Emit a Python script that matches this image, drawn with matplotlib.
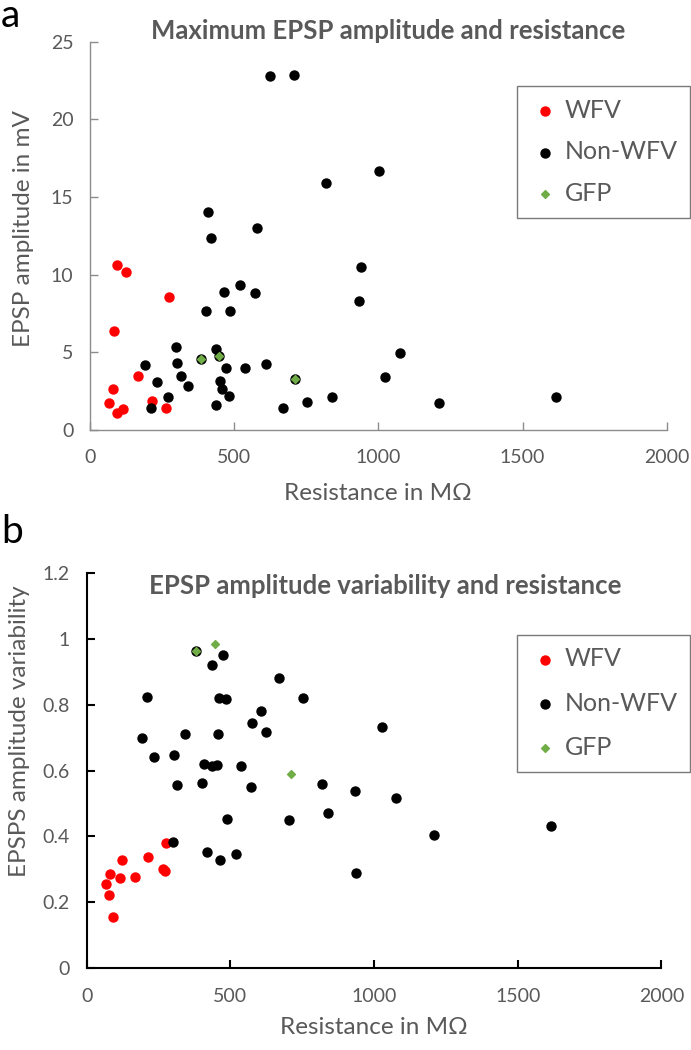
import matplotlib
matplotlib.use("Agg")
import matplotlib.pyplot as plt

plt.rcParams['font.family'] = ['Lato', 'DejaVu Sans']

# Panel a: maximum EPSP amplitude (mV) vs resistance (MOhm)
wfv_res_a = [93, 125, 274, 82, 168, 79, 67, 214, 116, 93, 265]
wfv_amp_a = [10.62, 10.17, 8.54, 6.39, 3.45, 2.62, 1.72, 1.89, 1.33, 1.07, 1.44]

non_res_a = [624, 706, 818, 1001, 408, 418, 579, 940, 934, 521, 463, 573, 402, 487,
             299, 437, 192, 303, 609, 472, 536, 317, 231, 341, 452, 459, 481, 271,
             211, 437, 670, 753, 838, 1076, 1024, 1211, 1616, 385, 449, 711]
non_amp_a = [22.77, 22.83, 15.88, 16.67, 14.01, 12.38, 13.0, 10.52, 8.30, 9.33, 8.86,
             8.82, 7.68, 7.68, 5.32, 5.21, 4.21, 4.29, 4.25, 4.01, 4.01, 3.45, 3.07,
             2.83, 3.13, 2.62, 2.21, 2.10, 1.44, 1.59, 1.44, 1.80, 2.10, 4.98, 3.43,
             1.76, 2.10, 4.57, 4.74, 3.28]

gfp_res_a = [385, 449, 711]
gfp_amp_a = [4.57, 4.74, 3.28]

# Panel b: EPSP amplitude variability vs resistance
wfv_res_b = [66, 79, 82, 92, 116, 124, 168, 213, 266, 271, 275]
wfv_var_b = [0.255, 0.222, 0.287, 0.157, 0.273, 0.327, 0.276, 0.337, 0.300, 0.294, 0.380]

non_res_b = [380, 473, 436, 670, 211, 462, 483, 753, 607, 575, 625, 191, 341, 458,
             233, 305, 408, 437, 452, 537, 314, 402, 571, 820, 934, 488, 703, 838,
             299, 418, 520, 464, 938, 1027, 1075, 1210, 1615]
non_var_b = [0.963, 0.951, 0.921, 0.880, 0.824, 0.821, 0.818, 0.819, 0.779, 0.744,
             0.718, 0.699, 0.710, 0.710, 0.641, 0.648, 0.619, 0.613, 0.618, 0.614,
             0.555, 0.563, 0.550, 0.560, 0.537, 0.454, 0.451, 0.470, 0.382, 0.353,
             0.348, 0.327, 0.289, 0.731, 0.516, 0.403, 0.433]

gfp_res_b = [380, 445, 710]
gfp_var_b = [0.963, 0.983, 0.588]

x_ticks = [0, 500, 1000, 1500, 2000]
y_ticks_a = [0, 5, 10, 15, 20, 25]
y_ticks_b = [0, 0.2, 0.4, 0.6, 0.8, 1.0, 1.2]
y_labels_b = ['0', '0.2', '0.4', '0.6', '0.8', '1', '1.2']

RED = '#FF0000'
GREEN = '#70AD47'
GREY = '#595959'

W, H = 691, 1050
fig = plt.figure(figsize=(W / 100, H / 100), dpi=100)


def fx(px):
    return px / W


def fy(py):
    return 1 - py / H


def panel(rect, spine_col, spine_w):
    ax = fig.add_axes(rect)
    for s in ['top', 'right']:
        ax.spines[s].set_visible(False)
    for s in ['left', 'bottom']:
        ax.spines[s].set_color(spine_col)
        ax.spines[s].set_linewidth(spine_w)
    ax.tick_params(direction='in', length=6, width=spine_w, color=spine_col,
                   labelsize=14, labelcolor=GREY)
    ax.tick_params(axis='x', pad=14)
    ax.tick_params(axis='y', pad=12)
    ax.set_xlim(0, 2000)
    ax.set_xticks(x_ticks)
    return ax


# ---- panel a
ax1 = panel([fx(90), fy(430), fx(666.7 - 90), (430 - 41.7) / H], '#8C8C8C', 1.0)
ax1.set_ylim(0, 25)
ax1.set_yticks(y_ticks_a)
ax1.scatter(wfv_res_a, wfv_amp_a, s=42, color=RED, label='WFV', zorder=3, clip_on=False)
ax1.scatter(non_res_a, non_amp_a, s=42, color='black', label='Non-WFV', zorder=3, clip_on=False)
ax1.scatter(gfp_res_a, gfp_amp_a, s=16, marker='D', color=GREEN, label='GFP', zorder=4)

# ---- panel b
ax2 = panel([fx(86.7), fy(968.3), fx(661.5 - 86.7), (968.3 - 572.7) / H], 'black', 1.5)
ax2.set_ylim(0, 1.2)
ax2.set_yticks(y_ticks_b)
ax2.set_yticklabels(y_labels_b)
ax2.scatter(wfv_res_b, wfv_var_b, s=42, color=RED, label='WFV', zorder=3, clip_on=False)
ax2.scatter(non_res_b, non_var_b, s=42, color='black', label='Non-WFV', zorder=3, clip_on=False)
ax2.scatter(gfp_res_b, gfp_var_b, s=16, marker='D', color=GREEN, label='GFP', zorder=4)

for ax, top, sp in [(ax1, 86, 0.75), (ax2, 635, 0.85)]:
    leg = ax.legend(loc='upper left', bbox_to_anchor=(fx(517), fy(top)),
                    bbox_transform=fig.transFigure, fontsize=18, frameon=True,
                    fancybox=False, borderpad=0.5, labelspacing=sp,
                    handlelength=1.2, handletextpad=0.2, borderaxespad=0)
    leg.get_frame().set_edgecolor(GREY)
    leg.get_frame().set_linewidth(1.0)
    for t in leg.get_texts():
        t.set_color(GREY)

# titles, axis labels, panel letters
fig.text(fx(388), fy(31), 'Maximum EPSP amplitude and resistance', ha='center', va='center',
         fontsize=18.5, fontweight='bold', color=GREY)
fig.text(fx(385), fy(586), 'EPSP amplitude variability and resistance', ha='center', va='center',
         fontsize=18.5, fontweight='bold', color=GREY)

fig.text(fx(378), fy(494), 'Resistance in MΩ', ha='center', va='center', fontsize=17.5, color=GREY)
fig.text(fx(374), fy(1028), 'Resistance in MΩ', ha='center', va='center', fontsize=17.5, color=GREY)
fig.text(fx(24), fy(229), 'EPSP amplitude in mV', ha='center', va='center', rotation=90,
         fontsize=17.5, color=GREY)
fig.text(fx(20), fy(731), 'EPSPS amplitude variability', ha='center', va='center', rotation=90,
         fontsize=17.5, color=GREY)

fig.text(fx(1), fy(16), 'a', ha='left', va='center', fontsize=28, color='black')
fig.text(fx(1), fy(532), 'b', ha='left', va='center', fontsize=28, color='black')

fig.savefig('out.png', dpi=100)
